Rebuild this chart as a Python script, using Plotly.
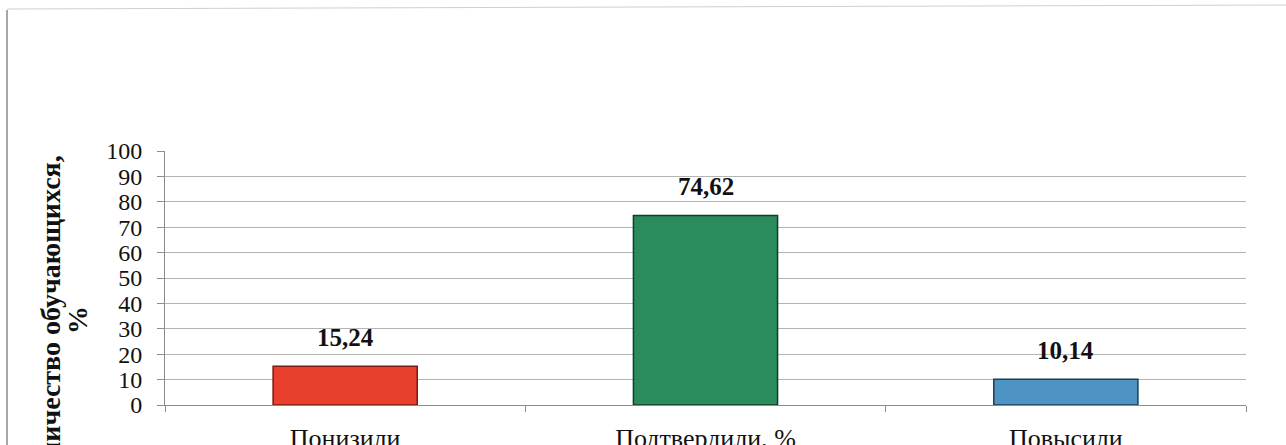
import plotly.graph_objects as go

categories = ["Понизили", "Подтвердили, %", "Повысили"]
values = [15.24, 74.62, 10.14]
value_labels = ["15,24", "74,62", "10,14"]
bar_colors = ["#e8402c", "#2a8c5c", "#4d93c4"]
edge_colors = ["#7a1a10", "#0f3d26", "#1d3e55"]
y_ticks = [0, 10, 20, 30, 40, 50, 60, 70, 80, 90, 100]
y_title_line1 = "Количество обучающихся,"
y_title_line2 = "%"

W, H = 1286, 445
L, R, T, B = 165, 40, 151, 40
pw, ph = W - L - R, H - T - B

def px_x(p):
    return (p - L) / pw

def px_y(p):
    return (H - B - p) / ph

serif = "Liberation Serif, Times New Roman, serif"

fig = go.Figure()
fig.add_trace(go.Bar(
    x=categories, y=values,
    marker=dict(color=bar_colors, line=dict(color=edge_colors, width=1.5)),
    width=0.4,
    hoverinfo="skip",
))

for c, v, lab in zip(categories, values, value_labels):
    fig.add_annotation(x=c, y=v, xref="x", yref="y", text="<b>" + lab + "</b>",
                       showarrow=False, yanchor="bottom", yshift=13,
                       font=dict(family=serif, size=25, color="#111"))

fig.add_annotation(x=px_x(50), y=px_y(323), xref="paper", yref="paper",
                   text="<b>" + y_title_line1 + "</b>", textangle=-90, showarrow=False,
                   xanchor="center", yanchor="middle",
                   font=dict(family=serif, size=28, color="#111"))
fig.add_annotation(x=px_x(77), y=px_y(320), xref="paper", yref="paper",
                   text="<b>" + y_title_line2 + "</b>", textangle=-90, showarrow=False,
                   xanchor="center", yanchor="middle",
                   font=dict(family=serif, size=28, color="#111"))

# outer frame of the scanned chart
fig.add_shape(type="line", xref="paper", yref="paper",
              x0=px_x(7), x1=px_x(7), y0=px_y(10), y1=px_y(460),
              line=dict(color="#8a8a8a", width=1.5))
fig.add_shape(type="line", xref="paper", yref="paper",
              x0=px_x(7), x1=px_x(1290), y0=px_y(9), y1=px_y(5),
              line=dict(color="#cfcfcf", width=1))

fig.update_layout(
    width=W, height=H,
    margin=dict(l=L, r=R, t=T, b=B, autoexpand=False),
    paper_bgcolor="white", plot_bgcolor="white",
    showlegend=False,
    font=dict(family=serif, color="#111"),
)
fig.update_xaxes(
    type="category", range=[-0.5, 2.5], automargin=False,
    showline=True, linecolor="#8c8c8c", linewidth=1,
    ticks="outside", tickson="boundaries", ticklen=6, tickcolor="#8c8c8c",
    tickfont=dict(family=serif, size=26, color="#111"),
    ticklabelstandoff=10,
    showgrid=False,
)
fig.update_yaxes(
    range=[0, 100], tickvals=y_ticks, automargin=False,
    showline=True, linecolor="#8c8c8c", linewidth=1,
    ticks="outside", ticklen=7, tickcolor="#8c8c8c",
    showgrid=True, gridcolor="#b4b4b4", gridwidth=1,
    zeroline=False,
    tickfont=dict(family=serif, size=24, color="#111"),
    ticklabelstandoff=10,
)

fig.write_html("out.html", config={"displayModeBar": False},
               post_script="document.body.style.margin='0';document.body.style.overflow='hidden';")
